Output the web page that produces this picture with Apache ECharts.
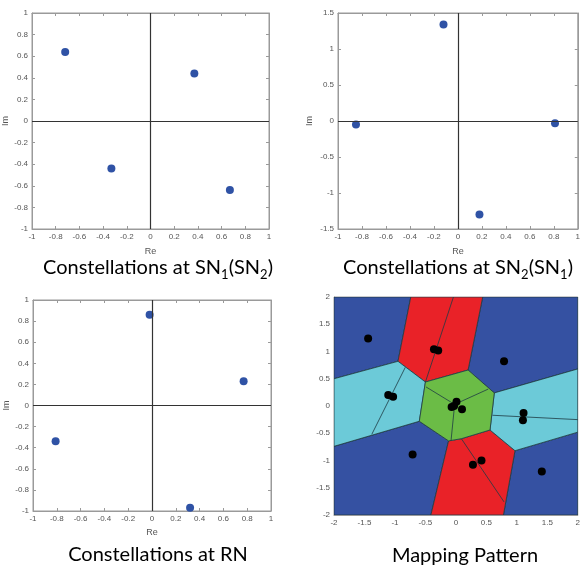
<!DOCTYPE html>
<html>
<head>
<meta charset="utf-8">
<script src="https://cdn.jsdelivr.net/npm/echarts@6/dist/echarts.min.js"></script>
<style>
  html, body { margin: 0; padding: 0; background: #fff; }
  #chart { width: 583px; height: 569px; }
</style>
</head>
<body>
<div id="chart"></div>
<script>
// constellation points [Re, Im]
const sn1Points = [[-0.72, 0.64], [0.37, 0.44], [-0.33, -0.44], [0.67, -0.64]];
const sn2Points = [[-0.12, 1.34], [-0.85, -0.05], [0.81, -0.03], [0.18, -1.30]];
const rnPoints = [[-0.02, 0.86], [0.77, 0.23], [-0.81, -0.34], [0.32, -0.97]];

// superimposed points at the relay
const mappingPoints = [
  [-1.44, 1.24], [-0.36, 1.04], [-0.29, 1.02], [0.79, 0.82],
  [-1.11, 0.20], [-1.03, 0.17], [0.01, 0.08], [-0.03, 0.00],
  [-0.07, -0.02], [0.10, -0.06], [1.11, -0.13], [1.10, -0.26],
  [-0.71, -0.89], [0.28, -1.08], [0.42, -1.00], [1.41, -1.20]
];

// decision regions of the mapping pattern
const blueRegions = [
  [[-2, 2], [-0.74, 2], [-0.95, 0.82], [-2, 0.50]],
  [[0.44, 2], [2, 2], [2, 0.68], [0.63, 0.24], [0.20, 0.66]],
  [[-2, -0.74], [-0.60, -0.28], [-0.12, -0.64], [-0.41, -2], [-2, -2]],
  [[0.97, -0.82], [2, -0.48], [2, -2], [0.78, -2]]
];
const redRegions = [
  [[-0.74, 2], [0.44, 2], [0.20, 0.66], [-0.50, 0.44], [-0.95, 0.82]],
  [[-0.12, -0.64], [0.09, -0.60], [0.56, -0.44], [0.97, -0.82], [0.78, -2], [-0.41, -2]]
];
const cyanRegions = [
  [[-2, 0.50], [-0.95, 0.82], [-0.50, 0.44], [-0.60, -0.28], [-2, -0.74]],
  [[0.63, 0.24], [2, 0.68], [2, -0.48], [0.97, -0.82], [0.56, -0.44]]
];
const greenRegions = [
  [[-0.50, 0.44], [0.20, 0.66], [0.63, 0.24], [0.56, -0.44], [0.09, -0.60], [-0.12, -0.64], [-0.60, -0.28]]
];
const innerEdges = [
  [[-0.04, 2], [-0.50, 0.44]],
  [[-0.83, 0.71], [-1.38, -0.52]],
  [[0.60, -0.17], [2, -0.25]],
  [[0.09, -0.60], [0.79, -1.76]],
  [[-0.49, 0.35], [-0.02, 0.03]],
  [[-0.02, 0.03], [0.53, 0.31]],
  [[-0.02, 0.03], [-0.08, -0.64]]
];

const chart = echarts.init(document.getElementById('chart'));

const grids = [
  { left: 32, top: 13, width: 237, height: 216 },
  { left: 338, top: 13, width: 243, height: 216 },
  { left: 33, top: 300, width: 238, height: 211 },
  { left: 334, top: 297, width: 249, height: 218 }
];
const ranges = [
  { x: [-1, 1, 0.2], y: [-1, 1, 0.2] },
  { x: [-1, 1, 0.2], y: [-1.5, 1.5, 0.5] },
  { x: [-1, 1, 0.2], y: [-1, 1, 0.2] },
  { x: [-2, 2, 0.5], y: [-2, 2, 0.5] }
];
const axisGray = '#9a9a9a';
const labelStyle = { color: '#555', fontSize: 8, fontFamily: 'Liberation Sans' };

const xAxes = [];
const yAxes = [];
ranges.forEach((r, i) => {
  const named = i < 3;
  xAxes.push({
    gridIndex: i, type: 'value', min: r.x[0], max: r.x[1], interval: r.x[2],
    position: 'bottom',
    name: named ? 'Re' : '', nameLocation: 'middle', nameGap: i === 2 ? 17 : 18,
    nameTextStyle: { color: '#555', fontSize: 9, fontFamily: 'Liberation Sans' },
    axisLine: { show: true, onZero: false, lineStyle: { color: axisGray } },
    axisTick: { show: named, inside: true, length: 3, lineStyle: { color: axisGray } },
    axisLabel: Object.assign({ margin: 4 }, labelStyle),
    splitLine: { show: false }
  });
  yAxes.push({
    gridIndex: i, type: 'value', min: r.y[0], max: r.y[1], interval: r.y[2],
    position: 'left',
    name: named ? 'Im' : '', nameLocation: 'middle', nameRotate: 90,
    nameGap: i === 1 ? 24 : 22,
    nameTextStyle: { color: '#555', fontSize: 9, fontFamily: 'Liberation Sans' },
    axisLine: { show: true, onZero: false, lineStyle: { color: axisGray } },
    axisTick: { show: named, inside: true, length: 3, lineStyle: { color: axisGray } },
    axisLabel: Object.assign({ margin: 4 }, labelStyle),
    splitLine: { show: false }
  });
  if (named) {
    // mirrored ticks on top and right, like the box axes
    xAxes.push({
      gridIndex: i, type: 'value', min: r.x[0], max: r.x[1], interval: r.x[2],
      position: 'top',
      axisLine: { show: true, onZero: false, lineStyle: { color: axisGray } },
      axisTick: { show: true, inside: true, length: 3, lineStyle: { color: axisGray } },
      axisLabel: { show: false }, splitLine: { show: false }
    });
    yAxes.push({
      gridIndex: i, type: 'value', min: r.y[0], max: r.y[1], interval: r.y[2],
      position: 'right',
      axisLine: { show: true, onZero: false, lineStyle: { color: axisGray } },
      axisTick: { show: true, inside: true, length: 3, lineStyle: { color: axisGray } },
      axisLabel: { show: false }, splitLine: { show: false }
    });
  }
});

// axis index of the bottom / left axis of each grid
const axisIdx = [0, 2, 4, 6];

function constellation(points, i) {
  return {
    type: 'scatter', xAxisIndex: axisIdx[i], yAxisIndex: axisIdx[i],
    data: points, symbolSize: 8,
    itemStyle: { color: '#2f52a5', opacity: 1 },
    markLine: {
      silent: true, symbol: 'none', animation: false,
      label: { show: false },
      lineStyle: { color: '#333', width: 1.2, type: 'solid' },
      data: [{ xAxis: 0 }, { yAxis: 0 }]
    },
    z: 3
  };
}

function regionSeries(polys, color) {
  return {
    type: 'custom', xAxisIndex: 6, yAxisIndex: 6,
    data: polys.map((p, k) => [k]),
    clip: true, silent: true,
    renderItem: function (params, api) {
      const pts = polys[params.dataIndex].map(p => api.coord(p));
      return {
        type: 'polygon', shape: { points: pts },
        style: { fill: color, stroke: '#1e3b44', lineWidth: 0.8 }
      };
    },
    z: 1
  };
}

const series = [
  constellation(sn1Points, 0),
  constellation(sn2Points, 1),
  constellation(rnPoints, 2),
  regionSeries(blueRegions, '#3551a2'),
  regionSeries(redRegions, '#e92228'),
  regionSeries(cyanRegions, '#6ccad8'),
  regionSeries(greenRegions, '#6bbc46'),
  {
    type: 'custom', xAxisIndex: 6, yAxisIndex: 6,
    data: innerEdges.map((e, k) => [k]),
    clip: true, silent: true,
    renderItem: function (params, api) {
      const pts = innerEdges[params.dataIndex].map(p => api.coord(p));
      return {
        type: 'polyline', shape: { points: pts },
        style: { fill: null, stroke: '#1e3b44', lineWidth: 0.8 }
      };
    },
    z: 2
  },
  {
    type: 'scatter', xAxisIndex: 6, yAxisIndex: 6,
    data: mappingPoints, symbolSize: 8,
    itemStyle: { color: '#000', opacity: 1 },
    z: 4
  }
];

const titleRich = {
  m: { fontSize: 20, fontFamily: 'Lato', color: '#111', lineHeight: 26 },
  s: { fontSize: 13, fontFamily: 'Lato', color: '#111', lineHeight: 26, verticalAlign: 'bottom' }
};
function title(text, x, y) {
  return {
    type: 'text', x: x, y: y,
    style: { text: text, align: 'center', verticalAlign: 'middle', rich: titleRich }
  };
}

chart.setOption({
  animation: false,
  backgroundColor: '#fff',
  grid: grids.map(g => Object.assign({ show: true, borderColor: axisGray, borderWidth: 1, backgroundColor: 'transparent' }, g)),
  xAxis: xAxes,
  yAxis: yAxes,
  series: series,
  graphic: [
    title('{m|Constellations at SN}{s|1}{m|(SN}{s|2}{m|)}', 158, 268),
    title('{m|Constellations at SN}{s|2}{m|(SN}{s|1}{m|)}', 458, 268),
    title('{m|Constellations at RN}', 158, 555),
    title('{m|Mapping Pattern}', 465, 556)
  ]
});
</script>
</body>
</html>
